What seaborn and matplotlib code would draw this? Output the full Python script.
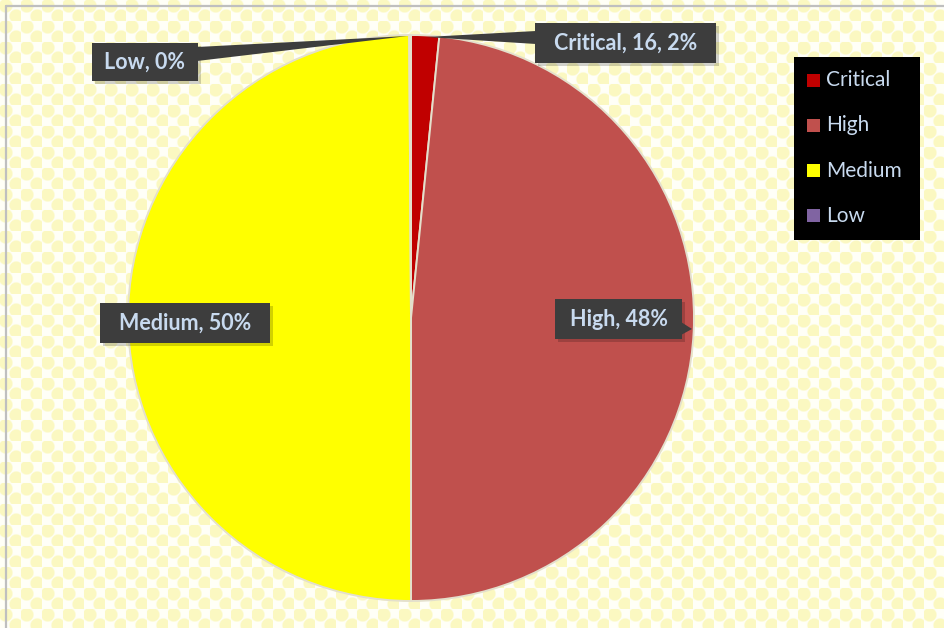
import numpy as np
import matplotlib
matplotlib.use("Agg")
import matplotlib.pyplot as plt
from matplotlib.patches import Rectangle, Polygon
import seaborn as sns

# Vulnerability counts by severity
categories = ["Critical", "High", "Medium", "Low"]
counts = [16, 485, 500, 1]
slice_colors = ["#C00000", "#C0504D", "#FFFF00", "#8064A2"]

sns.set_style("white")
palette = sns.color_palette(slice_colors)
plt.rcParams["font.family"] = ["Lato", "DejaVu Sans"]

W, H = 945, 628
fig = plt.figure(figsize=(W / 100, H / 100), dpi=100)
ax = fig.add_axes([0, 0, 1, 1])


def fy(y):
    """Convert a top-down pixel row to axes y."""
    return H - y


# pale textured chart-area background
yy, xx = np.mgrid[0:H, 0:W]
P = 21.0
u = (xx % P) / P
v = (yy % P) / P
d = np.minimum(np.hypot(u - 0.25, v - 0.25), np.hypot(u - 0.75, v - 0.75))
dots = np.clip((0.36 - d) / 0.07, 0, 1)[..., None]
light = np.array([1.0, 1.0, 0.97])
yel = np.array([0.985, 0.975, 0.76])
ax.imshow(light * (1 - dots) + yel * dots, extent=(0, W, 0, H), origin="upper",
          interpolation="bilinear", zorder=0)

# chart border (top and left)
ax.plot([6, W], [fy(6), fy(6)], color="#BFBFBF", lw=1.6, zorder=1)
ax.plot([6, 6], [fy(6), 0], color="#BFBFBF", lw=1.6, zorder=1)

# the pie itself
cx, cy, r = 411, fy(318), 283
wedges, _ = ax.pie(counts, colors=palette, startangle=90, counterclock=False,
                   center=(cx, cy), radius=r,
                   wedgeprops=dict(edgecolor="#E4E0CC", linewidth=1.4))
for w in wedges:
    w.set_zorder(2)

total = sum(counts)
pcts = [round(100 * c / total) for c in counts]
label_text = {
    "Critical": f"Critical, {counts[0]}, {pcts[0]}%",
    "High": f"High, {pcts[1]}%",
    "Medium": f"Medium, {pcts[2]}%",
    "Low": f"Low, {pcts[3]}%",
}

BOX = "#3D3D3D"
TXT = "#C8DAEF"


def callout(x0, y0, x1, y1, text, pointer=None):
    # soft shadow
    ax.add_patch(Rectangle((x0 + 3, fy(y1 + 3)), x1 - x0, y1 - y0,
                           facecolor="black", alpha=0.18, edgecolor="none", zorder=4))
    if pointer is not None:
        ax.add_patch(Polygon([(px, fy(py)) for px, py in pointer], closed=True,
                             facecolor=BOX, edgecolor="none", zorder=5))
    ax.add_patch(Rectangle((x0, fy(y1)), x1 - x0, y1 - y0,
                           facecolor=BOX, edgecolor="none", zorder=5))
    ax.text((x0 + x1) / 2, fy((y0 + y1) / 2), text, ha="center", va="center",
            color=TXT, fontsize=15.5, fontweight="bold", zorder=6)


callout(92, 43, 198, 81, label_text["Low"],
        pointer=[(197, 47), (197, 61), (408, 36)])
callout(535, 23, 716, 63, label_text["Critical"],
        pointer=[(536, 31), (536, 44), (426, 37)])
callout(100, 303, 270, 343, label_text["Medium"])
callout(555, 299, 682, 339, label_text["High"],
        pointer=[(681, 322), (681, 335), (692, 329)])

# legend
ax.add_patch(Rectangle((794, fy(240)), 126, 183, facecolor="black",
                       edgecolor="none", zorder=5))
for i, (name, col) in enumerate(zip(categories, palette)):
    ym = 80 + i * 45.3
    ax.add_patch(Rectangle((807, fy(ym + 6.5)), 13, 13, facecolor=col,
                           edgecolor="none", zorder=6))
    ax.text(826, fy(ym), name, ha="left", va="center", color=TXT,
            fontsize=15, zorder=6)

ax.set_xlim(0, W)
ax.set_ylim(0, H)
ax.set_aspect("auto")
ax.axis("off")

fig.savefig("out.png", dpi=100)
